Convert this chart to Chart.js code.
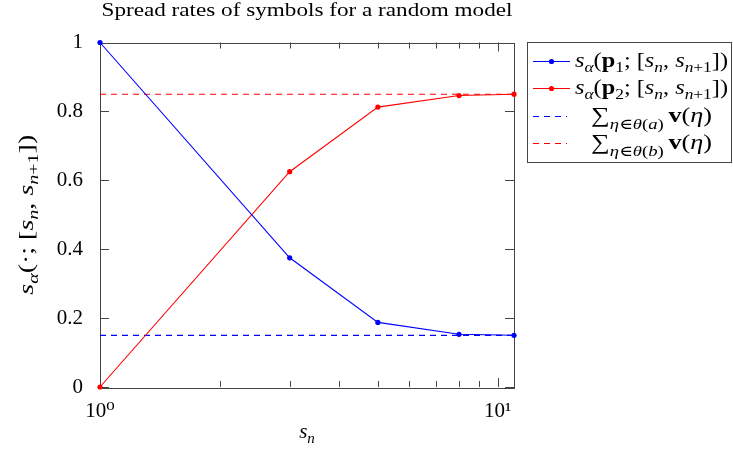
<!DOCTYPE html>
<html>
<head>
<meta charset="utf-8">
<script src="https://cdn.jsdelivr.net/npm/chart.js@4.4.1/dist/chart.umd.min.js"></script>
<style>
    html, body { margin: 0; padding: 0; background: #fff; }
</style>
</head>
<body>
<canvas id="myChart" width="733" height="449"></canvas>
<script>
// data
const sizes = [1, 3, 5, 8, 11];
const rateP1 = [1, 0.375, 0.1875, 0.153, 0.15];
const rateP2 = [0, 0.625, 0.8125, 0.846, 0.85];
const sumA = 0.15;
const sumB = 0.85;
const yTicks = [0, 0.2, 0.4, 0.6, 0.8, 1];
const xMajor = [1, 10];
const xMinor = [2, 3, 4, 5, 6, 7, 8, 9];
const xLabels = { 1: "10\u2070", 10: "10\u00b9" };
const titleText = "Spread rates of symbols for a random model";

const BLUE = "#0000ff";
const RED = "#ff0000";
const FRAME = "#444";
const SERIF = '"Liberation Serif", "DejaVu Serif", serif';

function toPoints(xs, ys) {
    return xs.map((x, k) => ({ x: x, y: ys[k] }));
}

// --- small math text helper: runs of {t, f:'i'|'b'|'r', sub, dy}
function runFont(r, base) {
    let size = r.size || (r.sub ? Math.round(base * 0.7) : base);
    let st = r.f === "i" ? "italic " : "";
    let wt = r.f === "b" ? "bold " : "";
    return st + wt + size + "px " + SERIF;
}
function mathWidth(ctx, runs, base) {
    let w = 0;
    runs.forEach(r => { ctx.font = runFont(r, base); w += ctx.measureText(r.t).width; });
    return w;
}
// draws runs with baseline at y; align 'left' or 'center'; optional width to stretch into
function drawMath(ctx, runs, x, y, base, align, width) {
    let w = mathWidth(ctx, runs, base);
    let sx = width ? width / w : 1;
    ctx.save();
    ctx.translate(x, y);
    ctx.scale(sx, 1);
    let cx = align === "center" ? -w / 2 : 0;
    ctx.textBaseline = "alphabetic";
    ctx.textAlign = "left";
    ctx.fillStyle = "#000";
    runs.forEach(r => {
        ctx.font = runFont(r, base);
        let dy = r.sub ? (r.dy || base * 0.25) : (r.dy || 0);
        ctx.fillText(r.t, cx, dy);
        cx += ctx.measureText(r.t).width;
    });
    ctx.restore();
}

const sAlpha = [{ t: "s", f: "i" }, { t: "\u03b1", f: "i", sub: 1 }];
const interval = [
    { t: "[", f: "r" }, { t: "s", f: "i" }, { t: "n", f: "i", sub: 1 }, { t: ", ", f: "r" },
    { t: "s", f: "i" }, { t: "n", f: "i", sub: 1 }, { t: "+1", f: "r", sub: 1 }, { t: "]", f: "r" }
];
function rateLabel(idx) {
    return sAlpha.concat([{ t: "(", f: "r" }, { t: "p", f: "b" }, { t: idx, f: "r", sub: 1 }, { t: "; ", f: "r" }],
        interval, [{ t: ")", f: "r" }]);
}
function sumLabel(v) {
    return [
        { t: "\u2211", f: "r" },
        { t: "\u03b7", f: "i", sub: 1, dy: 7 }, { t: "\u2208", f: "r", sub: 1, dy: 7 },
        { t: "\u03b8", f: "i", sub: 1, dy: 7 }, { t: "(", f: "r", sub: 1, dy: 7 },
        { t: v, f: "i", sub: 1, dy: 7 }, { t: ") ", f: "r", sub: 1, dy: 7 },
        { t: "v", f: "b" }, { t: "(", f: "r" }, { t: "\u03b7", f: "i" }, { t: ")", f: "r" }
    ];
}
const yTitle = sAlpha.concat([{ t: "(", f: "r" }, { t: "\u00b7", f: "r" }, { t: "; ", f: "r" }], interval, [{ t: ")", f: "r" }]);
const xTitle = [{ t: "s", f: "i" }, { t: "n", f: "i", sub: 1 }];

const legendRows = [
    { runs: rateLabel("1"), color: BLUE, dashed: false, tx: 575, tw: 153 },
    { runs: rateLabel("2"), color: RED, dashed: false, tx: 575, tw: 153 },
    { runs: sumLabel("a"), color: BLUE, dashed: true, tx: 591, tw: 121 },
    { runs: sumLabel("b"), color: RED, dashed: true, tx: 591, tw: 121 }
];

const framePlugin = {
    id: "frame",
    beforeDatasetsDraw(chart) {
        const ctx = chart.ctx;
        const a = chart.chartArea;
        const xs = chart.scales.x, ys = chart.scales.y;
        ctx.save();
        ctx.strokeStyle = FRAME;
        ctx.lineWidth = 1;
        ctx.beginPath();
        const tick = (x0, y0, x1, y1) => { ctx.moveTo(x0, y0); ctx.lineTo(x1, y1); };
        xMajor.forEach(v => {
            let px = Math.round(xs.getPixelForValue(v)) + 0.5;
            tick(px, a.bottom, px, a.bottom - 9);
            tick(px, a.top, px, a.top + 9);
        });
        xMinor.forEach(v => {
            let px = Math.round(xs.getPixelForValue(v)) + 0.5;
            tick(px, a.bottom, px, a.bottom - 6);
            tick(px, a.top, px, a.top + 6);
        });
        yTicks.forEach(v => {
            let py = Math.round(ys.getPixelForValue(v)) + 0.5;
            tick(a.left, py, a.left + 9, py);
            tick(a.right, py, a.right - 9, py);
        });
        ctx.stroke();
        ctx.strokeRect(Math.round(a.left) + 0.5, Math.round(a.top) + 0.5,
            Math.round(a.right - a.left), Math.round(a.bottom - a.top));
        ctx.restore();
    },
    afterDraw(chart) {
        const ctx = chart.ctx;
        const a = chart.chartArea;
        // chart title, centred over the plot
        drawMath(ctx, [{ t: titleText, f: "r" }], (a.left + a.right) / 2, 16, 19, "center", 411);
        // axis titles
        drawMath(ctx, xTitle, (a.left + a.right) / 2, 438, 21, "center");
        ctx.save();
        ctx.translate(33, (a.top + a.bottom) / 2);
        ctx.rotate(-Math.PI / 2);
        drawMath(ctx, yTitle, 0, 0, 21, "center", 160);
        ctx.restore();
        // legend box
        ctx.save();
        ctx.strokeStyle = FRAME;
        ctx.lineWidth = 1;
        ctx.fillStyle = "#fff";
        ctx.fillRect(527.5, 42.5, 204, 120);
        ctx.strokeRect(527.5, 42.5, 204, 120);
        const rowY = [61, 88, 116, 143];
        legendRows.forEach((row, k) => {
            let y = rowY[k] + 0.5;
            ctx.strokeStyle = row.color;
            ctx.lineWidth = 1;
            ctx.setLineDash(row.dashed ? [6, 5] : []);
            ctx.beginPath();
            ctx.moveTo(533, y);
            ctx.lineTo(row.dashed ? 567 : 570, y);
            ctx.stroke();
            ctx.setLineDash([]);
            if (!row.dashed) {
                ctx.fillStyle = row.color;
                ctx.beginPath();
                ctx.arc(551.5, y, 2.6, 0, Math.PI * 2);
                ctx.fill();
            }
            drawMath(ctx, row.runs, row.tx, rowY[k] + 6, 21, "left", row.tw);
        });
        ctx.restore();
    }
};

const lineStyle = (color) => ({
    borderColor: color,
    backgroundColor: color,
    borderWidth: 1.1,
    pointRadius: 2.6,
    pointBorderWidth: 0,
    pointBackgroundColor: color,
    tension: 0,
    clip: false
});
const dashStyle = (color) => ({
    borderColor: color,
    backgroundColor: color,
    borderWidth: 1.1,
    borderDash: [6, 5],
    pointRadius: 0,
    clip: false
});

this.draw = new Chart(document.getElementById("myChart"), {
    type: "line",
    data: {
        datasets: [
            Object.assign({ label: "s_\u03b1(p1; [s_n, s_n+1])", data: toPoints(sizes, rateP1) }, lineStyle(BLUE)),
            Object.assign({ label: "s_\u03b1(p2; [s_n, s_n+1])", data: toPoints(sizes, rateP2) }, lineStyle(RED)),
            Object.assign({ label: "\u2211 v(\u03b7), \u03b7\u2208\u03b8(a)", data: toPoints([sizes[0], sizes[sizes.length - 1]], [sumA, sumA]) }, dashStyle(BLUE)),
            Object.assign({ label: "\u2211 v(\u03b7), \u03b7\u2208\u03b8(b)", data: toPoints([sizes[0], sizes[sizes.length - 1]], [sumB, sumB]) }, dashStyle(RED))
        ]
    },
    options: {
        responsive: false,
        animation: false,
        layout: { padding: { left: 0, right: 219, top: 42.5, bottom: 0 } },
        plugins: {
            legend: { display: false },
            tooltip: { enabled: false },
            title: { display: false }
        },
        scales: {
            x: {
                type: "logarithmic",
                min: 1,
                max: 11,
                grid: { display: false },
                border: { display: false },
                afterFit: (s) => { s.height = 62; },
                afterBuildTicks: (s) => { s.ticks = xMajor.map(v => ({ value: v })); },
                ticks: {
                    autoSkip: false,
                    maxRotation: 0,
                    padding: 4,
                    color: "#000",
                    font: { family: SERIF, size: 21 },
                    callback: (v) => xLabels[v] || ""
                }
            },
            y: {
                min: 0,
                max: 1,
                grid: { display: false },
                border: { display: false },
                afterFit: (s) => { s.width = 100; },
                afterBuildTicks: (s) => { s.ticks = yTicks.map(v => ({ value: v })); },
                ticks: {
                    padding: 9,
                    color: "#000",
                    font: { family: SERIF, size: 21 },
                    callback: (v) => String(+v.toFixed(1))
                }
            }
        }
    },
    plugins: [framePlugin]
});
</script>
</body>
</html>
